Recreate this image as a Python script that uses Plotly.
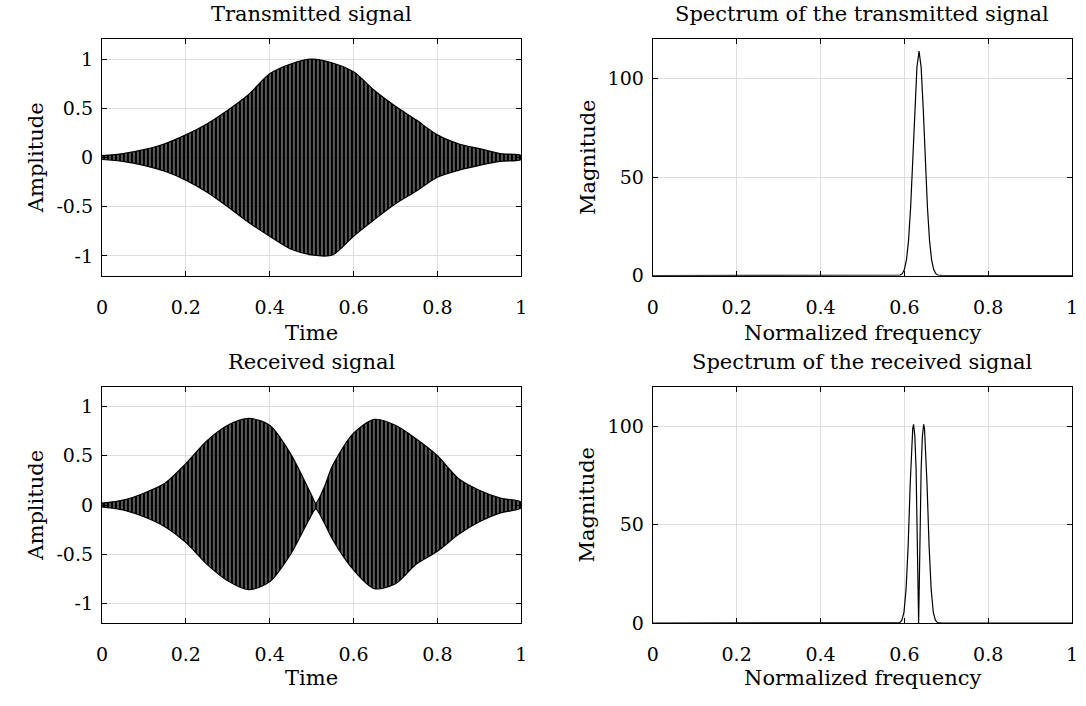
import plotly.graph_objects as go
from plotly.subplots import make_subplots

# envelope of the transmitted signal
tx_time = [0, 0.05, 0.1, 0.15, 0.2, 0.25, 0.3, 0.35, 0.4, 0.45, 0.5,
           0.55, 0.6, 0.65, 0.7, 0.75, 0.8, 0.85, 0.9, 0.95, 1.0]
tx_upper = [0.02, 0.04, 0.08, 0.14, 0.23, 0.34, 0.48, 0.64, 0.85, 0.95, 1.0,
            0.96, 0.87, 0.68, 0.52, 0.38, 0.23, 0.14, 0.09, 0.04, 0.02]
tx_lower = [-0.02, -0.04, -0.08, -0.14, -0.23, -0.35, -0.5, -0.66, -0.8, -0.93, -0.99,
            -0.99, -0.8, -0.63, -0.47, -0.34, -0.2, -0.13, -0.08, -0.04, -0.02]

# envelope of the received signal
rx_time = [0, 0.05, 0.1, 0.15, 0.2, 0.25, 0.3, 0.35, 0.4, 0.45, 0.5, 0.51,
           0.53, 0.55, 0.6, 0.65, 0.7, 0.75, 0.8, 0.85, 0.9, 0.95, 1.0]
rx_upper = [0.02, 0.05, 0.12, 0.22, 0.42, 0.65, 0.81, 0.88, 0.81, 0.52, 0.1, 0.02,
            0.18, 0.4, 0.73, 0.87, 0.81, 0.67, 0.5, 0.27, 0.15, 0.07, 0.03]
rx_lower = [-0.02, -0.05, -0.12, -0.22, -0.38, -0.6, -0.77, -0.86, -0.78, -0.5, -0.1, -0.04,
            -0.18, -0.35, -0.66, -0.85, -0.8, -0.6, -0.47, -0.3, -0.17, -0.08, -0.03]

# spectra (normalized frequency, magnitude)
tx_freq = [0, 0.58, 0.585, 0.59, 0.595, 0.6, 0.605, 0.61, 0.615, 0.62, 0.625, 0.63, 0.635,
           0.64, 0.645, 0.65, 0.655, 0.66, 0.665, 0.67, 0.675, 0.68, 0.685, 0.69, 1.0]
tx_mag = [0, 0, 0.07, 0.3, 1.0, 3.1, 8.0, 17.9, 34.9, 58.6, 84.8, 105.9, 114,
          105.9, 84.8, 58.6, 34.9, 17.9, 8.0, 3.1, 1.0, 0.3, 0.07, 0, 0]

rx_freq = [0, 0.58, 0.589, 0.594, 0.599, 0.604, 0.609, 0.614, 0.617, 0.62, 0.622, 0.625,
           0.628, 0.63, 0.632, 0.634, 0.636, 0.638, 0.64, 0.643, 0.646, 0.648, 0.651,
           0.654, 0.659, 0.664, 0.669, 0.674, 0.679, 0.69, 1.0]
rx_mag = [0, 0, 0.3, 1.5, 5.4, 17, 39, 71, 88, 99, 101, 95,
          78, 52, 25, 0, 25, 52, 78, 95, 101, 99, 88,
          71, 39, 17, 5.4, 1.5, 0.3, 0, 0]

FONT = "DejaVu Serif"

fig = make_subplots(rows=2, cols=2)


def band(t, up, lo):
    return t + t[::-1], up + lo[::-1]


for row, (t, up, lo) in enumerate([(tx_time, tx_upper, tx_lower),
                                    (rx_time, rx_upper, rx_lower)], start=1):
    bx, by = band(t, up, lo)
    fig.add_trace(go.Scatter(
        x=bx, y=by, mode="lines", fill="toself",
        line=dict(color="black", width=1.2, shape="spline", smoothing=0.8),
        fillcolor="rgba(0,0,0,0.5)",
        fillpattern=dict(shape="|", size=4, solidity=0.65, fgcolor="black",
                         fgopacity=1),
        hoverinfo="skip", showlegend=False), row=row, col=1)

fig.add_trace(go.Scatter(x=tx_freq, y=tx_mag, mode="lines",
                         line=dict(color="black", width=1.2), showlegend=False), row=1, col=2)
fig.add_trace(go.Scatter(x=rx_freq, y=rx_mag, mode="lines",
                         line=dict(color="black", width=1.2), showlegend=False), row=2, col=2)

W, H = 1086, 706
xdom_l = [97 / W, 521 / W]
xdom_r = [654 / W, 1078 / W]
ydom_t = [1 - 280 / H, 1 - 40 / H]
ydom_b = [1 - 633 / H, 1 - 393 / H]

axis_style = dict(
    showline=True, linecolor="black", linewidth=1.2, mirror="ticks",
    ticks="inside", ticklen=5, tickcolor="black",
    showgrid=True, gridcolor="#dedede", gridwidth=1, zeroline=False,
    tickfont=dict(family=FONT, size=19, color="black"),
)

for i, (xd, yd) in enumerate([(xdom_l, ydom_t), (xdom_r, ydom_t),
                               (xdom_l, ydom_b), (xdom_r, ydom_b)], start=1):
    sfx = "" if i == 1 else str(i)
    fig.layout["xaxis" + sfx].update(domain=xd, range=[0, 1],
                                     tickvals=[0, 0.2, 0.4, 0.6, 0.8, 1],
                                     ticktext=["0", "0.2", "0.4", "0.6", "0.8", "1"],
                                     ticklabelstandoff=14,
                                     **axis_style)

for i in (1, 3):
    sfx = "" if i == 1 else str(i)
    fig.layout["yaxis" + sfx].update(domain=ydom_t if i == 1 else ydom_b,
                                     range=[-1.2, 1.2],
                                     tickvals=[-1, -0.5, 0, 0.5, 1],
                                     ticktext=["-1", "-0.5", "0", "0.5", "1"],
                                     ticklabelstandoff=4,
                                     **axis_style)
for i in (2, 4):
    fig.layout["yaxis" + str(i)].update(domain=ydom_t if i == 2 else ydom_b,
                                        range=[0, 120], tickvals=[0, 50, 100],
                                        ticklabelstandoff=4,
                                        **axis_style)

tfont = dict(family=FONT, size=21, color="black")
notes = [
    ("Transmitted signal", 309, 14, 0),
    ("Spectrum of the transmitted signal", 866, 14, 0),
    ("Received signal", 309, 368, 0),
    ("Spectrum of the received signal", 866, 368, 0),
    ("Time", 309, 338, 0),
    ("Normalized frequency", 866, 338, 0),
    ("Time", 309, 689, 0),
    ("Normalized frequency", 866, 689, 0),
    ("Amplitude", 30, 160, -90),
    ("Magnitude", 588, 160, -90),
    ("Amplitude", 30, 513, -90),
    ("Magnitude", 588, 513, -90),
]
for text, px, py, ang in notes:
    fig.add_annotation(text=text, x=px / W, y=1 - py / H, xref="paper", yref="paper",
                       xanchor="center", yanchor="middle", showarrow=False,
                       textangle=ang, font=tfont)

fig.update_layout(width=W, height=H, margin=dict(l=0, r=0, t=0, b=0),
                  paper_bgcolor="white", plot_bgcolor="white",
                  font=dict(family=FONT, color="black"))

fig.write_html(
    "out.html", config={"displayModeBar": False},
    post_script=("document.body.style.margin='0px';"
                 "document.body.style.overflow='hidden';"
                 "document.documentElement.style.overflow='hidden';"))
